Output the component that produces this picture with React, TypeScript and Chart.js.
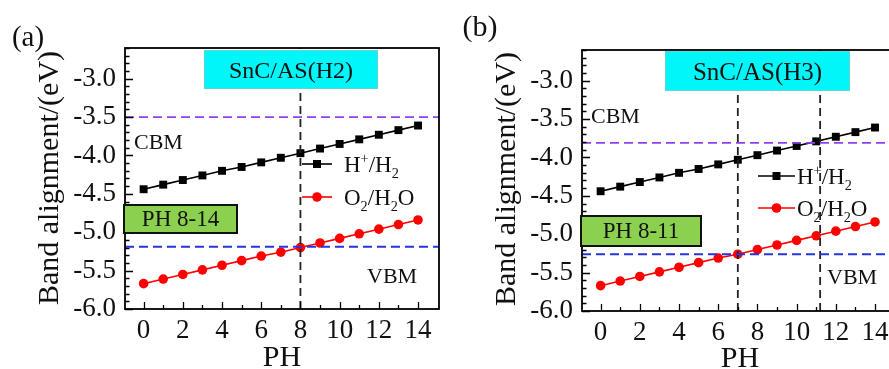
import React, { useEffect, useRef } from "react";
import { Chart, registerables } from "chart.js";
Chart.register(...registerables);

// ---- data ----
const pH = [0, 1, 2, 3, 4, 5, 6, 7, 8, 9, 10, 11, 12, 13, 14];
const hH2 = [-4.44, -4.38, -4.32, -4.26, -4.2, -4.15, -4.09, -4.03, -3.97, -3.91, -3.85, -3.79, -3.73, -3.67, -3.61];
const o2H2O = [-5.67, -5.61, -5.55, -5.49, -5.43, -5.37, -5.31, -5.26, -5.2, -5.14, -5.08, -5.02, -4.96, -4.9, -4.84];
const yTicks = [-6.0, -5.5, -5.0, -4.5, -4.0, -3.5, -3.0];
const xTicks = [0, 2, 4, 6, 8, 10, 12, 14];
const xMinorTicks = [0, 1, 2, 3, 4, 5, 6, 7, 8, 9, 10, 11, 12, 13, 14];
const yRange = [-6.0, -2.6];
const xRange = [-0.95, 15.07];

const cbmA = -3.5;
const vbmA = -5.19;
const pHLinesA = [8];
const cbmB = -3.81;
const vbmB = -5.26;
const pHLinesB = [7, 11.2];

const serif = "'Liberation Serif', 'Times New Roman', serif";

type Part = [string, number];
const legendH: Part[] = [["H", 0], ["+", 1], ["/H", 0], ["2", 2]];
const legendO: Part[] = [["O", 0], ["2", 2], ["/H", 0], ["2", 2], ["O", 0]];

interface Cfg {
  offsetX: number;
  width: number;
  area: { left: number; top: number; right: number; bottom: number };
  panel: string;
  panelPos: [number, number, number];
  yTitlePos: [number, number];
  xTitlePos: [number, number];
  title: string;
  titleBox: [number, number, number, number];
  titleSize: number;
  range: string;
  rangeBox: [number, number, number, number];
  cbmPos: [number, number];
  vbmPos: [number, number];
  legendLine: [number, number];
  legendY: [number, number];
  legendTextX: number;
  cbm: number;
  vbm: number;
  pHLines: number[];
}

const cfgA: Cfg = {
  offsetX: 0,
  width: 445,
  area: { left: 125, top: 48, right: 439, bottom: 309 },
  panel: "(a)",
  panelPos: [28, 38, 29],
  yTitlePos: [50, 178],
  xTitlePos: [282, 358],
  title: "SnC/AS(H2)",
  titleBox: [204, 50, 378, 89],
  titleSize: 24,
  range: "PH 8-14",
  rangeBox: [123, 204, 238, 234],
  cbmPos: [134, 143],
  vbmPos: [367, 277],
  legendLine: [302, 332],
  legendY: [164, 197],
  legendTextX: 344,
  cbm: cbmA,
  vbm: vbmA,
  pHLines: pHLinesA,
};

const cfgB: Cfg = {
  offsetX: 445,
  width: 460,
  area: { left: 137, top: 50, right: 451, bottom: 311 },
  panel: "(b)",
  panelPos: [35, 28, 30],
  yTitlePos: [62, 179],
  xTitlePos: [295, 359],
  title: "SnC/AS(H3)",
  titleBox: [220, 51, 405, 91],
  titleSize: 25,
  range: "PH 8-11",
  rangeBox: [135, 215, 257, 247],
  cbmPos: [146, 117],
  vbmPos: [382, 278],
  legendLine: [313, 350],
  legendY: [176, 208],
  legendTextX: 352,
  cbm: cbmB,
  vbm: vbmB,
  pHLines: pHLinesB,
};

function drawRich(ctx: CanvasRenderingContext2D, x: number, y: number, parts: Part[], size: number) {
  let cx = x;
  ctx.textAlign = "left";
  ctx.textBaseline = "alphabetic";
  const base = y + size * 0.33;
  for (const [t, k] of parts) {
    if (k === 0) {
      ctx.font = `${size}px ${serif}`;
      ctx.fillText(t, cx, base);
      cx += ctx.measureText(t).width;
    } else {
      const s = size * 0.62;
      ctx.font = `${s}px ${serif}`;
      const dy = k === 1 ? -size * 0.38 : size * 0.28;
      ctx.fillText(t, cx, base + dy);
      cx += ctx.measureText(t).width;
    }
  }
}

function makePlugin(c: Cfg) {
  return {
    id: "decor",
    afterDatasetsDraw(chart: any) {
      const ctx: CanvasRenderingContext2D = chart.ctx;
      const a = chart.chartArea;
      const xs = chart.scales.x;
      const ys = chart.scales.y;
      ctx.save();
      // frame
      ctx.strokeStyle = "#000";
      ctx.lineWidth = 1.8;
      ctx.setLineDash([]);
      ctx.strokeRect(a.left, a.top, a.right - a.left, a.bottom - a.top);
      // y ticks (inward), minor each 0.1
      ctx.lineWidth = 1.3;
      ctx.beginPath();
      const nMinor = Math.round((yRange[1] - yRange[0]) / 0.1);
      for (let k = 0; k <= nMinor; k++) {
        const v = yRange[0] + k * 0.1;
        const py = Math.round(ys.getPixelForValue(v)) + 0.5;
        const len = k % 5 === 0 ? 8 : 4.5;
        ctx.moveTo(a.left, py);
        ctx.lineTo(a.left + len, py);
      }
      for (const v of xMinorTicks) {
        const px = Math.round(xs.getPixelForValue(v)) + 0.5;
        const len = v % 2 === 0 ? 7 : 4;
        ctx.moveTo(px, a.bottom);
        ctx.lineTo(px, a.bottom - len);
      }
      ctx.stroke();

      // title box (cyan)
      const [tx1, ty1, tx2, ty2] = c.titleBox;
      ctx.fillStyle = "#00f6f8";
      ctx.fillRect(tx1, ty1, tx2 - tx1, ty2 - ty1);
      ctx.strokeStyle = "#5fd6d6";
      ctx.lineWidth = 1;
      ctx.strokeRect(tx1 + 0.5, ty1 + 0.5, tx2 - tx1 - 1, ty2 - ty1 - 1);
      ctx.fillStyle = "#111";
      ctx.font = `${c.titleSize}px ${serif}`;
      ctx.textAlign = "center";
      ctx.textBaseline = "middle";
      ctx.fillText(c.title, (tx1 + tx2) / 2, (ty1 + ty2) / 2 + 2);

      // range box (green)
      const [gx1, gy1, gx2, gy2] = c.rangeBox;
      ctx.fillStyle = "#8cd04f";
      ctx.fillRect(gx1, gy1, gx2 - gx1, gy2 - gy1);
      ctx.strokeStyle = "#111";
      ctx.lineWidth = 2;
      ctx.strokeRect(gx1 + 1, gy1 + 1, gx2 - gx1 - 2, gy2 - gy1 - 2);
      ctx.fillStyle = "#111";
      ctx.font = `23px ${serif}`;
      ctx.fillText(c.range, (gx1 + gx2) / 2, (gy1 + gy2) / 2 + 1);

      // CBM / VBM
      ctx.textAlign = "left";
      ctx.font = `22px ${serif}`;
      ctx.fillText("CBM", c.cbmPos[0], c.cbmPos[1]);
      ctx.fillText("VBM", c.vbmPos[0], c.vbmPos[1]);

      // legend
      const [lx1, lx2] = c.legendLine;
      const items: [number, string, string, Part[]][] = [
        [c.legendY[0], "#000", "rect", legendH],
        [c.legendY[1], "#ff0000", "circle", legendO],
      ];
      for (const [ly, col, shape, parts] of items) {
        ctx.strokeStyle = col;
        ctx.fillStyle = col;
        ctx.lineWidth = 1.6;
        ctx.beginPath();
        ctx.moveTo(lx1, ly);
        ctx.lineTo(lx2, ly);
        ctx.stroke();
        const mx = (lx1 + lx2) / 2;
        if (shape === "rect") {
          ctx.fillRect(mx - 4, ly - 4, 8, 8);
        } else {
          ctx.beginPath();
          ctx.arc(mx, ly, 4.8, 0, Math.PI * 2);
          ctx.fill();
        }
        ctx.fillStyle = "#111";
        drawRich(ctx, c.legendTextX, ly, parts, 23);
      }

      // panel label
      ctx.fillStyle = "#111";
      ctx.font = `${c.panelPos[2]}px ${serif}`;
      ctx.textAlign = "center";
      ctx.textBaseline = "middle";
      ctx.fillText(c.panel, c.panelPos[0], c.panelPos[1]);

      // axis titles
      ctx.font = `30px ${serif}`;
      ctx.fillText("PH", c.xTitlePos[0], c.xTitlePos[1]);
      ctx.save();
      ctx.translate(c.yTitlePos[0], c.yTitlePos[1]);
      ctx.rotate(-Math.PI / 2);
      ctx.fillText("Band alignment/(eV)", 0, 0);
      ctx.restore();

      ctx.restore();
    },
  };
}

function Panel({ c }: { c: Cfg }) {
  const ref = useRef<HTMLCanvasElement>(null);
  useEffect(() => {
    const refLine = (xs: number[], ys: number[]) => xs.map((x, i) => ({ x, y: ys[i] }));
    const datasets: any[] = [
      {
        data: refLine([xRange[0], xRange[1]], [c.cbm, c.cbm]),
        borderColor: "#9040f0",
        borderWidth: 1.6,
        borderDash: [9, 5],
        pointRadius: 0,
      },
      {
        data: refLine([xRange[0], xRange[1]], [c.vbm, c.vbm]),
        borderColor: "#2535e0",
        borderWidth: 1.9,
        borderDash: [9, 5],
        pointRadius: 0,
      },
      ...c.pHLines.map((v) => ({
        data: refLine([v, v], [yRange[0], yRange[1]]),
        borderColor: "#222",
        borderWidth: 1.8,
        borderDash: [8, 5],
        pointRadius: 0,
      })),
      {
        label: "H+/H2",
        data: refLine(pH, hH2),
        borderColor: "#000",
        backgroundColor: "#000",
        borderWidth: 1.6,
        pointStyle: "rect",
        pointRadius: 5.6,
        pointBorderWidth: 0,
      },
      {
        label: "O2/H2O",
        data: refLine(pH, o2H2O),
        borderColor: "#ff0000",
        backgroundColor: "#ff0000",
        borderWidth: 1.6,
        pointStyle: "circle",
        pointRadius: 4.8,
        pointBorderWidth: 0,
      },
    ];
    const H = 369;
    const chart = new Chart(ref.current!, {
      type: "line",
      data: { datasets },
      options: {
        animation: false,
        responsive: false,
        devicePixelRatio: 1,
        layout: { padding: { top: c.area.top, right: c.width - c.area.right, left: 0, bottom: 0 } },
        plugins: { legend: { display: false }, tooltip: { enabled: false } },
        scales: {
          x: {
            type: "linear",
            min: xRange[0],
            max: xRange[1],
            afterBuildTicks: (s: any) => {
              s.ticks = xTicks.map((v) => ({ value: v }));
            },
            afterFit: (s: any) => {
              s.height = H - c.area.bottom;
            },
            grid: { display: false, drawTicks: false },
            border: { display: false },
            ticks: {
              font: { family: serif, size: 27 },
              color: "#111",
              padding: 6,
              maxRotation: 0,
              autoSkip: false,
              callback: (v: any) => String(v),
            },
          },
          y: {
            type: "linear",
            min: yRange[0],
            max: yRange[1],
            afterBuildTicks: (s: any) => {
              s.ticks = yTicks.map((v) => ({ value: v }));
            },
            afterFit: (s: any) => {
              s.width = c.area.left;
            },
            grid: { display: false, drawTicks: false },
            border: { display: false },
            ticks: {
              font: { family: serif, size: 27 },
              color: "#111",
              padding: 9,
              autoSkip: false,
              callback: (v: any) => Number(v).toFixed(1),
            },
          },
        },
      },
      plugins: [makePlugin(c)],
    } as any);
    return () => chart.destroy();
  }, []);
  return (
    <canvas
      ref={ref}
      width={c.width}
      height={369}
      style={{ position: "absolute", left: c.offsetX, top: 0, width: c.width, height: 369 }}
    />
  );
}

export default function App() {
  return (
    <div
      style={{
        position: "absolute",
        left: 0,
        top: 0,
        width: 889,
        height: 369,
        overflow: "hidden",
        background: "#fff",
      }}
    >
      <Panel c={cfgA} />
      <Panel c={cfgB} />
    </div>
  );
}
